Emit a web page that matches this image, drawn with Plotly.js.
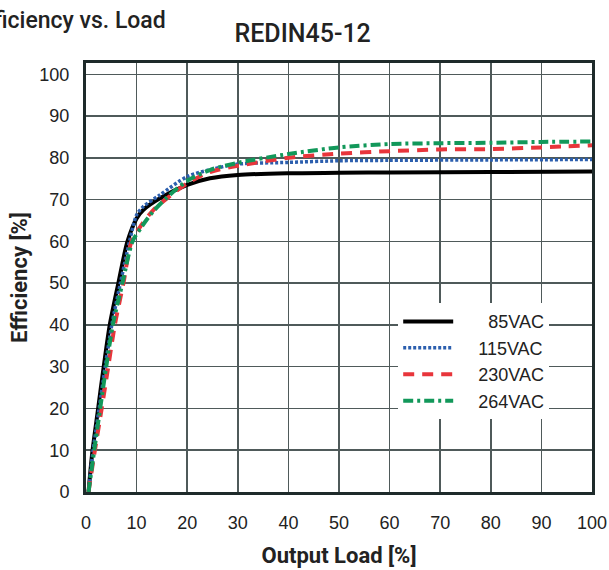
<!DOCTYPE html>
<html>
<head>
<meta charset="utf-8">
<script src="https://cdn.plot.ly/plotly-3.0.1.min.js"></script>
<style>html,body{margin:0;padding:0;background:#fff;}#chart{width:609px;height:570px;}</style>
</head>
<body>
<div id="chart"></div>
<script>
// Series data (Output Load %, Efficiency %)
const seriesNames = ["85VAC", "115VAC", "230VAC", "264VAC"];

const load85 = [0.5, 1.2, 2.4, 3.5, 4.7, 6.4, 8.2, 10, 11.3, 14.6, 20, 24.5, 30, 40, 50, 60, 80, 100];
const eff85  = [0, 9, 20, 30, 40, 50, 60, 65.5, 67.5, 70.3, 73.5, 75.1, 75.9, 76.3, 76.4, 76.5, 76.6, 76.7];

const load115 = [0.5, 1.3, 2.6, 3.8, 5.1, 6.8, 8.6, 10, 11.3, 14.6, 20, 25, 30, 40, 50, 60, 80, 100];
const eff115  = [0, 9, 20, 30, 40, 50, 60, 66.3, 68.3, 71.1, 75.5, 77.3, 78.5, 78.9, 79.3, 79.4, 79.5, 79.6];

const load230 = [0.5, 1.5, 3.1, 4.4, 5.7, 7.4, 9.0, 11, 13.3, 16, 20, 24.5, 30, 40, 50, 60, 70, 80, 90, 100];
const eff230  = [0, 8, 20, 30, 40, 50, 60, 64, 67.5, 70.3, 73.9, 76.6, 78.1, 80.0, 81.0, 81.6, 82.0, 82.1, 82.5, 83.0];

const load264 = [0.5, 1.4, 2.8, 4.0, 5.3, 7.2, 9.2, 11, 13.3, 16, 20, 25, 30, 40, 50, 60, 70, 80, 90, 100];
const eff264  = [0, 8, 20, 30, 40, 50, 60, 63.5, 67.2, 70.5, 74.5, 77.3, 78.8, 80.9, 82.5, 83.3, 83.5, 83.6, 83.8, 83.9];

const xTicks = [0, 10, 20, 30, 40, 50, 60, 70, 80, 90, 100];
const yTicks = [0, 10, 20, 30, 40, 50, 60, 70, 80, 90, 100];

const titleText = "REDIN45-12";
const headerText = "Efficiency vs. Load";
const xTitle = "Output Load [%]";
const yTitle = "Efficiency [%]";

const condensed = "Roboto, 'DejaVu Sans Condensed', sans-serif";
const regular = "'Liberation Sans', Arial, sans-serif";

// legend labels right-aligned with non-breaking spaces
const pad = ["\u00A0\u00A0\u00A0\u00A0\u00A0\u00A0", "\u00A0\u00A0\u00A0\u00A0", "\u00A0\u00A0\u00A0\u00A0", "\u00A0\u00A0\u00A0\u00A0"];

const traces = [
  {x: load85, y: eff85, name: pad[0] + seriesNames[0], mode: "lines",
   line: {color: "#000000", width: 4, shape: "spline", smoothing: 0.8}},
  {x: load115, y: eff115, name: pad[1] + seriesNames[1], mode: "lines",
   line: {color: "#2c5fae", width: 3.5, dash: "3px,2px", shape: "spline", smoothing: 0.8}},
  {x: load230, y: eff230, name: pad[2] + seriesNames[2], mode: "lines",
   line: {color: "#e8353b", width: 4, dash: "11px,8px", shape: "spline", smoothing: 0.8}},
  {x: load264, y: eff264, name: pad[3] + seriesNames[3], mode: "lines",
   line: {color: "#12985a", width: 4, dash: "10px,4px,3px,4px", shape: "spline", smoothing: 0.8}}
];

const axisCommon = {
  showgrid: true, gridcolor: "#4f5a5a", gridwidth: 1.5,
  showline: true, linecolor: "#1e2a2a", linewidth: 3, mirror: true,
  zeroline: false, ticks: "",
  tickfont: {family: regular, size: 18, color: "#222"}
};

const layout = {
  width: 609, height: 570,
  margin: {l: 86, r: 17, t: 63, b: 78},
  paper_bgcolor: "#fff", plot_bgcolor: "#fff",
  showlegend: true,
  title: {text: titleText, x: 0.497, xanchor: "center", y: 0.942, yanchor: "middle",
          font: {family: condensed, size: 25, color: "#222", weight: 500}},
  xaxis: Object.assign({}, axisCommon, {
    range: [0, 100], tickvals: xTicks, ticklabelstandoff: 12,
    title: {text: xTitle, standoff: 17, font: {family: condensed, size: 22, color: "#222", weight: "bold"}}
  }),
  yaxis: Object.assign({}, axisCommon, {
    range: [0, 102.7], tickvals: yTicks, ticklabelstandoff: 10,
    title: {text: yTitle, standoff: 6, font: {family: condensed, size: 22, color: "#222", weight: "bold"}}
  }),
  legend: {
    x: 0.617, xanchor: "left", y: 0.44, yanchor: "top",
    bgcolor: "#ffffff", borderwidth: 0,
    font: {family: regular, size: 18, color: "#222"},
    itemwidth: 50
  },
  annotations: [
    {text: headerText, xref: "paper", yref: "paper", x: 0.163, xanchor: "right",
     y: 1.10, yanchor: "middle", showarrow: false,
     font: {family: condensed, size: 23, color: "#222", weight: 500}}
  ]
};

Plotly.newPlot("chart", traces, layout, {displayModeBar: false, staticPlot: true});
</script>
</body>
</html>
